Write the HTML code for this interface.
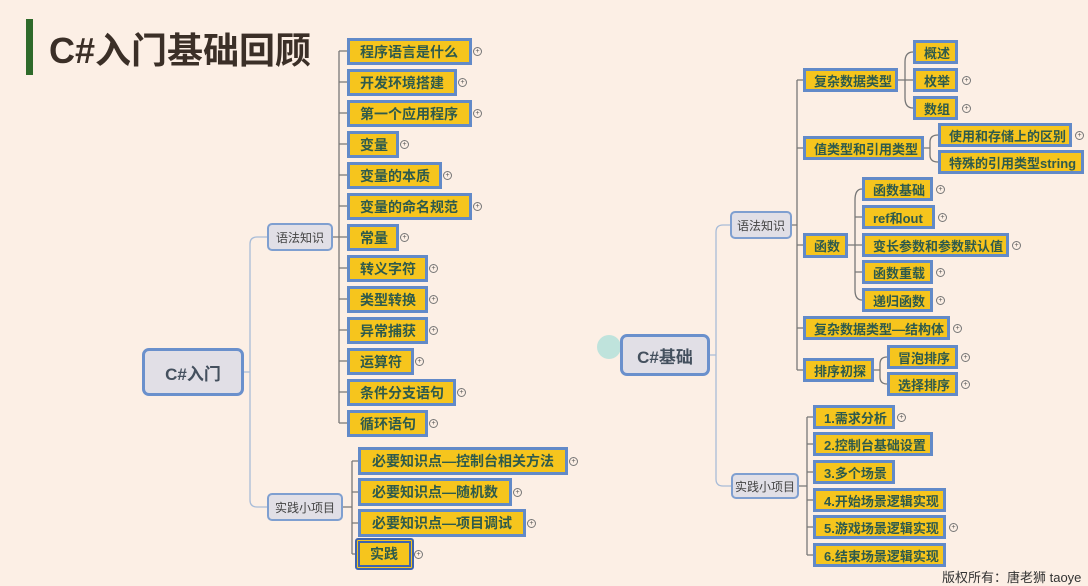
<!DOCTYPE html>
<html><head><meta charset="utf-8"><style>
body{margin:0;width:1088px;height:577px;overflow:hidden;background:#fcefe5;position:relative;font-family:"Liberation Sans","Noto Sans CJK SC",sans-serif}
.y{position:absolute;background:#f6c51d;border:3px solid #628ac8;box-sizing:border-box;font-weight:bold;font-size:14px;color:#2e5a4c;display:flex;align-items:center;padding-left:10px;white-space:nowrap}
.r{font-size:13px;padding-left:8px}
.g{position:absolute;background:#e1dfe6;border:2px solid #7f9fd0;border-radius:5px;box-sizing:border-box;font-size:12px;color:#444;display:flex;align-items:center;justify-content:center}
.m{position:absolute;background:#e1dfe6;border:3px solid #6a90cc;border-radius:7px;box-sizing:border-box;font-size:17px;font-weight:bold;color:#44505e;display:flex;align-items:center;justify-content:center}
.p{position:absolute;width:7px;height:7px;border:1px solid #777;border-radius:50%;font-size:7px;line-height:7px;text-align:center;color:#555}
svg{position:absolute;left:0;top:0}
</style></head><body>
<div style="position:absolute;left:26px;top:19px;width:7px;height:56px;background:#2e6a2a"></div>
<div style="position:absolute;left:49px;top:29px;font-size:36px;font-weight:bold;color:#3b2f27;line-height:44px">C#入门基础回顾</div>
<svg width="1088" height="577" fill="none" stroke-width="1.3">
<g stroke="#a8bcd8">
<path d="M244 372 H250 M250 244 Q250 237 257 237 H267 M250 244 V500 Q250 507 257 507 H267"/>
<path d="M710 355 H716 M716 232 Q716 225 723 225 H730 M716 232 V479 Q716 486 723 486 H731"/>
</g>
<g stroke="#777">
<path d="M333 237 H339 M339 51 V423 M339 51H347 M339 82H347 M339 113H347 M339 144H347 M339 175H347 M339 206H347 M339 237H347 M339 268H347 M339 299H347 M339 330H347 M339 361H347 M339 392H347 M339 423H347"/>
<path d="M343 507 H352 M352 461 V554 M352 461H358 M352 492H358 M352 523H358 M352 554H356"/>
<path d="M792 225 H797 M797 80 V370 M797 80H803 M797 148H803 M797 245H803 M797 328H803 M797 370H803"/>
<path d="M898 80 H905 M913 52 Q905 52 905 62 V98 Q905 108 913 108 M905 80H913"/>
<path d="M924 148 H930 M938 135 Q930 135 930 142 V155 Q930 162 938 162"/>
<path d="M848 245 H855 M862 189 Q855 189 855 200 V290 Q855 300 862 300 M855 217H862 M855 245H862 M855 272H862"/>
<path d="M874 370 H880 M887 357 Q880 357 880 364 V377 Q880 384 887 384"/>
<path d="M799 486 H807 M807 417 V555 M807 417H813 M807 444H813 M807 472H813 M807 500H813 M807 527H813 M807 555H813"/>
</g>
</svg>
<div class="m" style="left:142px;top:348px;width:102px;height:48px">C#入门</div>
<div class="g" style="left:267px;top:223px;width:66px;height:28px">语法知识</div>
<div class="g" style="left:267px;top:493px;width:76px;height:28px">实践小项目</div>
<div class="y" style="left:347px;top:38px;width:125px;height:27px">程序语言是什么</div>
<div class="y" style="left:347px;top:69px;width:110px;height:27px">开发环境搭建</div>
<div class="y" style="left:347px;top:100px;width:125px;height:27px">第一个应用程序</div>
<div class="y" style="left:347px;top:131px;width:52px;height:27px">变量</div>
<div class="y" style="left:347px;top:162px;width:95px;height:27px">变量的本质</div>
<div class="y" style="left:347px;top:193px;width:125px;height:27px">变量的命名规范</div>
<div class="y" style="left:347px;top:224px;width:52px;height:27px">常量</div>
<div class="y" style="left:347px;top:255px;width:81px;height:27px">转义字符</div>
<div class="y" style="left:347px;top:286px;width:81px;height:27px">类型转换</div>
<div class="y" style="left:347px;top:317px;width:81px;height:27px">异常捕获</div>
<div class="y" style="left:347px;top:348px;width:67px;height:27px">运算符</div>
<div class="y" style="left:347px;top:379px;width:109px;height:27px">条件分支语句</div>
<div class="y" style="left:347px;top:410px;width:81px;height:27px">循环语句</div>
<div class="y" style="left:358px;top:447px;width:210px;height:28px;padding-left:11px">必要知识点—控制台相关方法</div>
<div class="y" style="left:358px;top:478px;width:154px;height:28px;padding-left:11px">必要知识点—随机数</div>
<div class="y" style="left:358px;top:509px;width:168px;height:28px;padding-left:11px">必要知识点—项目调试</div>
<div class="y" style="left:355px;top:538px;width:59px;height:32px;border:5px double #3f64ad;border-radius:3px;padding-left:10px">实践</div>
<div class="p" style="left:473px;top:47px">+</div><div class="p" style="left:458px;top:78px">+</div><div class="p" style="left:473px;top:109px">+</div><div class="p" style="left:400px;top:140px">+</div><div class="p" style="left:443px;top:171px">+</div><div class="p" style="left:473px;top:202px">+</div><div class="p" style="left:400px;top:233px">+</div><div class="p" style="left:429px;top:264px">+</div><div class="p" style="left:429px;top:295px">+</div><div class="p" style="left:429px;top:326px">+</div><div class="p" style="left:415px;top:357px">+</div><div class="p" style="left:457px;top:388px">+</div><div class="p" style="left:429px;top:419px">+</div>
<div class="p" style="left:569px;top:457px">+</div><div class="p" style="left:513px;top:488px">+</div><div class="p" style="left:527px;top:519px">+</div><div class="p" style="left:414px;top:550px">+</div>

<div style="position:absolute;left:597px;top:335px;width:24px;height:24px;border-radius:50%;background:#bfe3dc"></div>
<div class="m" style="left:620px;top:334px;width:90px;height:42px">C#基础</div>
<div class="g" style="left:730px;top:211px;width:62px;height:28px">语法知识</div>
<div class="g" style="left:731px;top:473px;width:68px;height:26px">实践小项目</div>
<div class="y r" style="left:803px;top:68px;width:95px;height:24px">复杂数据类型</div>
<div class="y r" style="left:913px;top:40px;width:45px;height:24px">概述</div>
<div class="y r" style="left:913px;top:68px;width:45px;height:24px">枚举</div>
<div class="y r" style="left:913px;top:96px;width:45px;height:24px">数组</div>
<div class="y r" style="left:803px;top:136px;width:121px;height:24px">值类型和引用类型</div>
<div class="y r" style="left:938px;top:123px;width:134px;height:24px">使用和存储上的区别</div>
<div class="y r" style="left:938px;top:150px;width:146px;height:24px">特殊的引用类型string</div>
<div class="y r" style="left:803px;top:233px;width:45px;height:25px">函数</div>
<div class="y r" style="left:862px;top:177px;width:71px;height:24px">函数基础</div>
<div class="y r" style="left:862px;top:205px;width:73px;height:24px">ref和out</div>
<div class="y r" style="left:862px;top:233px;width:147px;height:24px">变长参数和参数默认值</div>
<div class="y r" style="left:862px;top:260px;width:71px;height:24px">函数重载</div>
<div class="y r" style="left:862px;top:288px;width:71px;height:24px">递归函数</div>
<div class="y r" style="left:803px;top:316px;width:147px;height:24px">复杂数据类型—结构体</div>
<div class="y r" style="left:803px;top:358px;width:71px;height:24px">排序初探</div>
<div class="y r" style="left:887px;top:345px;width:71px;height:24px">冒泡排序</div>
<div class="y r" style="left:887px;top:372px;width:71px;height:24px">选择排序</div>
<div class="y r" style="left:813px;top:405px;width:82px;height:24px">1.需求分析</div>
<div class="y r" style="left:813px;top:432px;width:120px;height:24px">2.控制台基础设置</div>
<div class="y r" style="left:813px;top:460px;width:82px;height:24px">3.多个场景</div>
<div class="y r" style="left:813px;top:488px;width:133px;height:24px">4.开始场景逻辑实现</div>
<div class="y r" style="left:813px;top:515px;width:133px;height:24px">5.游戏场景逻辑实现</div>
<div class="y r" style="left:813px;top:543px;width:133px;height:24px">6.结束场景逻辑实现</div>
<div class="p" style="left:962px;top:76px">+</div><div class="p" style="left:962px;top:104px">+</div><div class="p" style="left:1075px;top:131px">+</div><div class="p" style="left:936px;top:185px">+</div><div class="p" style="left:938px;top:213px">+</div><div class="p" style="left:1012px;top:241px">+</div><div class="p" style="left:936px;top:268px">+</div><div class="p" style="left:936px;top:296px">+</div><div class="p" style="left:953px;top:324px">+</div><div class="p" style="left:961px;top:353px">+</div><div class="p" style="left:961px;top:380px">+</div><div class="p" style="left:897px;top:413px">+</div><div class="p" style="left:949px;top:523px">+</div>
<div style="position:absolute;left:942px;top:567px;font-size:13px;color:#333;white-space:nowrap">版权所有：唐老狮 taoye</div>
</body></html>
